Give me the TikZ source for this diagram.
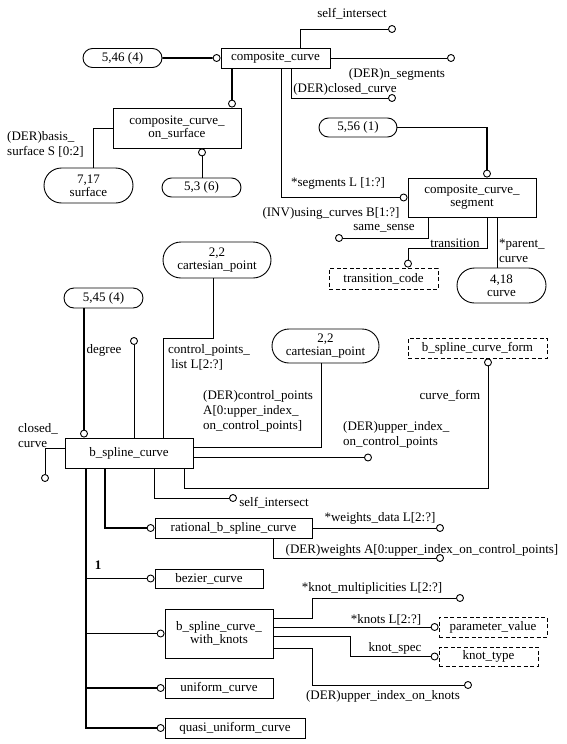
\documentclass[tikz,border=0pt]{standalone}
\usepackage{fontspec}
\setmainfont{Liberation Serif}
\usetikzlibrary{shapes.misc}
\begin{document}
\begin{tikzpicture}[x=1pt,y=-1pt,
  every node/.style={font=\fontsize{13}{13}\selectfont},
  sz/.style 2 args={minimum width=#1pt, minimum height=#2pt},
  ent/.style={draw, line width=0.9pt, rectangle, inner sep=0pt, align=center},
  dent/.style={ent, dash pattern=on 4pt off 2.5pt},
  ref/.style={draw, line width=0.9pt, rounded rectangle, inner sep=0pt, align=center},
  lbl/.style={inner sep=0pt, align=left, font=\fontsize{13}{15}\selectfont},
  oc/.style={draw, circle, line width=0.9pt, fill=white, minimum size=7pt, inner sep=0pt},
  ln/.style={line width=0.9pt},
  tk/.style={line width=1.8pt},
]
\useasboundingbox (0,0) rectangle (566,744);

% entity and reference boxes
\node[ref, sz={79}{19}] (r546) at (122.5,58) {5,46 (4)};
\node[ent, sz={109}{20}] (cc) at (275.5,58) {composite\_curve};
\node[ent, sz={128}{40}] (ccos) at (177,128) {composite\_curve\_\\on\_surface};
\node[ref, sz={89}{35}] (r717) at (88.5,185.5) {7,17\\surface};
\node[ref, sz={79}{19}] (r53) at (201.5,187.5) {5,3 (6)};
\node[ref, sz={78}{19}] (r556) at (358,127.5) {5,56 (1)};
\node[ent, sz={128}{39}] (ccs) at (472,197.5) {composite\_curve\_\\segment};
\node[dent, sz={109}{21}] (tc) at (383.5,278.5) {transition\_code};
\node[ref, sz={89}{35}] (r418) at (501.5,285.5) {4,18\\curve};
\node[ref, sz={108}{36}] (cp1) at (217,260) {2,2\\cartesian\_point};
\node[ref, sz={79}{20}] (r545) at (103.5,298) {5,45 (4)};
\node[ref, sz={107}{34}] (cp2) at (325.5,346) {2,2\\cartesian\_point};
\node[dent, sz={139}{20}] (bscf) at (477.5,348) {b\_spline\_curve\_form};
\node[ent, sz={128}{30}] (bsc) at (129,453) {b\_spline\_curve};
\node[ent, sz={157}{20}] (rbsc) at (233.5,528) {rational\_b\_spline\_curve};
\node[ent, sz={108}{19}] (bez) at (209,578.5) {bezier\_curve};
\node[ent, sz={108}{49}] (bwk) at (219,633.5) {b\_spline\_curve\_\\with\_knots};
\node[ent, sz={108}{20}] (uc) at (219,688) {uniform\_curve};
\node[ent, sz={140}{20}] (quc) at (235,728) {quasi\_uniform\_curve};
\node[dent, sz={108}{20}] (pv) at (493,627) {parameter\_value};
\node[dent, sz={99}{19}] (kt) at (488.5,656.5) {knot\_type};

% circles
\node[oc] (csi1) at (392,29) {};
\node[oc] (cns) at (451,58) {};
\node[oc] (ccl) at (392,98) {};
\node[oc, anchor=east] (cseg) at (ccs.west) {};
\node[oc, anchor=south] (c556) at (487,0 |- ccs.north) {};
\node[oc, anchor=east] (ccc) at (cc.west) {};
\node[oc, anchor=south] (cccos) at (232,0 |- ccos.north) {};
\node[oc, anchor=north] (c53) at (202,0 |- ccos.south) {};
\node[oc] (css) at (339,238) {};
\node[oc, anchor=south] (ctc) at (408,0 |- tc.north) {};
\node[oc, anchor=south] (c545) at (84,0 |- bsc.north) {};
\node[oc] (cdeg) at (134,341) {};
\node[oc] (cuicp) at (368,457.5) {};
\node[oc, anchor=north] (cbscf) at (488,0 |- bscf.south) {};
\node[oc] (csi2) at (233,498) {};
\node[oc, anchor=east] (crb) at (rbsc.west) {};
\node[oc] (cwd) at (440,528) {};
\node[oc] (cw) at (440,558) {};
\node[oc] (cclc) at (45,478) {};
\node[oc, anchor=east] (cbez) at (bez.west) {};
\node[oc, anchor=east] (cbwk) at (bwk.west) {};
\node[oc, anchor=east] (cuc) at (uc.west) {};
\node[oc, anchor=east] (cquc) at (quc.west) {};
\node[oc] (ckm) at (460,598) {};
\node[oc, anchor=east] (ckn) at (pv.west) {};
\node[oc, anchor=east] (cks) at (kt.west) {};
\node[oc] (cuik) at (468,685) {};

% connectors
\draw[tk] (r546) -- (ccc);
\draw[tk] (232,0 |- cc.south) -- (cccos);
\draw[ln] (300,0 |- cc.north) |- (csi1);
\draw[ln] (cc.east) -- (cns);
\draw[ln] (291,0 |- cc.south) |- (ccl);
\draw[ln] (281,0 |- cc.south) |- (cseg);
\draw[tk] (r556) -| (c556);
\draw[ln] (ccos.west) -| (93,0 |- r717.north);
\draw[ln] (c53) -- (202,0 |- r53.north);
\draw[ln] (428,0 |- ccs.south) |- (css);
\draw[ln] (487,0 |- ccs.south) -- (487,248) -| (ctc);
\draw[ln] (497,0 |- ccs.south) -- (497,0 |- r418.north);
\draw[tk] (84,0 |- r545.south) -- (c545);
\draw[ln] (134,0 |- bsc.north) -- (cdeg);
\draw[ln] (163,0 |- bsc.north) -- (163,338) -| (213,0 |- cp1.south);
\draw[ln] (bsc.east |- 0,447) -| (321,0 |- cp2.south);
\draw[ln] (bsc.east |- cuicp) -- (cuicp);
\draw[ln] (184,0 |- bsc.south) -- (184,488) -| (cbscf);
\draw[ln] (154,0 |- bsc.south) |- (csi2);
\draw[tk] (105,0 |- bsc.south) |- (crb);
\draw[ln] (bsc.west |- 0,448) -| (cclc);
\draw[tk] (86,0 |- bsc.south) |- (cquc);
\draw[tk] (86,0 |- cbez) -- (cbez);
\draw[tk] (86,0 |- cbwk) -- (cbwk);
\draw[tk] (86,0 |- cuc) -- (cuc);
\draw[ln] (rbsc.east |- cwd) -- (cwd);
\draw[ln] (273,0 |- rbsc.south) |- (cw);
\draw[ln] (bwk.east |- 0,618) -- (312,618) |- (ckm);
\draw[ln] (bwk.east |- ckn) -- (ckn);
\draw[ln] (bwk.east |- 0,636) -- (350,636) |- (cks);
\draw[ln] (bwk.east |- 0,648) -- (312,648) |- (cuik);

% labels
\node[lbl] (t1) at (352,14) {self\_intersect};
\node[lbl] (t2) at (397,74) {(DER)n\_segments};
\node[lbl] (t3) at (345,89) {(DER)closed\_curve};
\node[lbl] (t4) at (338,183) {*segments L [1:?]};
\node[lbl] (t5) at (331,213) {(INV)using\_curves B[1:?]};
\node[lbl] (t6) at (384,228) {same\_sense};
\node[lbl] (t7) at (455,243) {transition};
\node[lbl, anchor=west] (t8) at (499,250.5) {*parent\_\\curve};
\node[lbl, anchor=west] (t9) at (7,144) {(DER)basis\_\\surface S [0:2]};
\node[lbl] (t10) at (104,350) {degree};
\node[lbl, anchor=west] (t11) at (168,357.5) {control\_points\_\\\ list L[2:?]};
\node[lbl, anchor=west] (t12) at (203,411) {(DER)control\_points\\A[0:upper\_index\_\\on\_control\_points]};
\node[lbl] (t13) at (450,396) {curve\_form};
\node[lbl, anchor=west] (t14) at (343,435) {(DER)upper\_index\_\\on\_control\_points};
\node[lbl] (t15) at (274,503) {self\_intersect};
\node[lbl, anchor=west] (t16) at (18,435.5) {closed\_\\curve};
\node[lbl] (t17) at (380,518) {*weights\_data L[2:?]};
\node[lbl] (t18) at (422,550) {(DER)weights A[0:upper\_index\_on\_control\_points]};
\node[lbl, font=\fontsize{13}{15}\selectfont\bfseries] (t19) at (98,565) {1};
\node[lbl] (t20) at (372,588) {*knot\_multiplicities L[2:?]};
\node[lbl] (t21) at (386,620) {*knots L[2:?]};
\node[lbl] (t22) at (395,648) {knot\_spec};
\node[lbl] (t23) at (383,696) {(DER)upper\_index\_on\_knots};
\end{tikzpicture}
\end{document}
